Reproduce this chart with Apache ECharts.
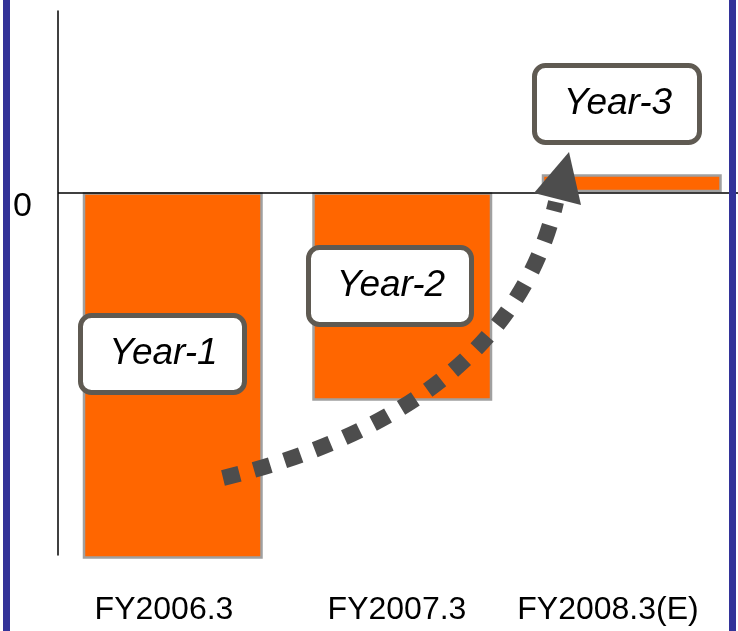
<!DOCTYPE html>
<html>
<head>
<meta charset="utf-8">
<script src="https://cdn.jsdelivr.net/npm/echarts@6/dist/echarts.min.js"></script>
<style>
html,body{margin:0;padding:0;background:#fff;}
#c{width:738px;height:631px;}
</style>
</head>
<body>
<div id="c"></div>
<script>
const categories = ['FY2006.3', 'FY2007.3', 'FY2008.3(E)'];
const values = [-202, -115, 10];
const annotations = ['Year-1', 'Year-2', 'Year-3'];
const yTicks = { min: -200, max: 100, interval: 100 };

const chart = echarts.init(document.getElementById('c'), null, { renderer: 'canvas' });
const FONT = '"Liberation Sans", Arial, sans-serif';

const labelShift = [17.5, 10.5, 47.5];
const rich = {};
labelShift.forEach((p, i) => {
  rich['c' + i] = { fontSize: 32, fontFamily: FONT, color: '#000', padding: [0, p, 0, 0] };
});

function box(x, y, w, h, text) {
  return {
    type: 'group',
    children: [
      { type: 'rect', z: 100, shape: { x: x, y: y, width: w, height: h, r: 11 },
        style: { fill: '#fff', stroke: '#5f5a52', lineWidth: 5 } },
      { type: 'text', z: 101, x: x + w / 2 + 1, y: y + h / 2,
        style: { text: text, fontSize: 37, fontStyle: 'italic', fontFamily: FONT,
                 fill: '#000', align: 'center', verticalAlign: 'middle' } }
    ]
  };
}

const option = {
  animation: false,
  backgroundColor: '#fff',
  grid: { left: 58, right: -8.5, top: 11, bottom: 76, containLabel: false, outerBoundsMode: 'none' },
  xAxis: {
    type: 'category',
    data: categories,
    axisLine: { show: false, onZero: false },
    axisTick: { show: false },
    axisLabel: {
      margin: 39,
      hideOverlap: false,
      formatter: (v, i) => '{c' + i + '|' + v + '}',
      rich: rich
    },
    splitLine: { show: false }
  },
  yAxis: {
    type: 'value',
    min: yTicks.min, max: yTicks.max, interval: yTicks.interval,
    axisLine: { show: true, lineStyle: { color: '#000', width: 1.5 } },
    axisTick: { show: false },
    splitLine: { show: false },
    axisLabel: {
      formatter: v => (v === 0 ? '{z|0}' : ''),
      margin: 26,
      rich: { z: { fontSize: 34, fontFamily: FONT, color: '#000', padding: [28, 0, 0, 0] } }
    }
  },
  series: [{
    type: 'bar',
    data: values,
    barWidth: 180,
    clip: false,
    itemStyle: { color: '#FF6600', borderColor: '#a0a0a0', borderWidth: 2.5 },
    markLine: {
      silent: true,
      symbol: ['none', 'none'],
      label: { show: false },
      lineStyle: { color: '#000', width: 1.5, type: 'solid' },
      data: [{ yAxis: 0 }],
      z: 5
    }
  }],
  graphic: [
    { type: 'bezierCurve', z: 20,
      shape: { x1: 223, y1: 478, cpx1: 380, cpy1: 440, cpx2: 520, cpy2: 360, x2: 556, y2: 202 },
      style: { stroke: '#4d4d4d', lineWidth: 16, lineDash: [17, 15], lineCap: 'butt', fill: null } },
    { type: 'polygon', z: 21,
      shape: { points: [[569, 152], [534, 193], [581, 205]] },
      style: { fill: '#4d4d4d' } },
    box(80.5, 315.5, 164, 77, annotations[0]),
    box(308.5, 247.5, 163, 77, annotations[1]),
    box(534.5, 65.5, 165, 77, annotations[2]),
    { type: 'rect', z: 200, shape: { x: 3, y: 0, width: 7, height: 631 }, style: { fill: '#333399' } },
    { type: 'rect', z: 200, shape: { x: 729, y: 0, width: 7, height: 631 }, style: { fill: '#333399' } }
  ]
};
chart.setOption(option);
</script>
</body>
</html>
